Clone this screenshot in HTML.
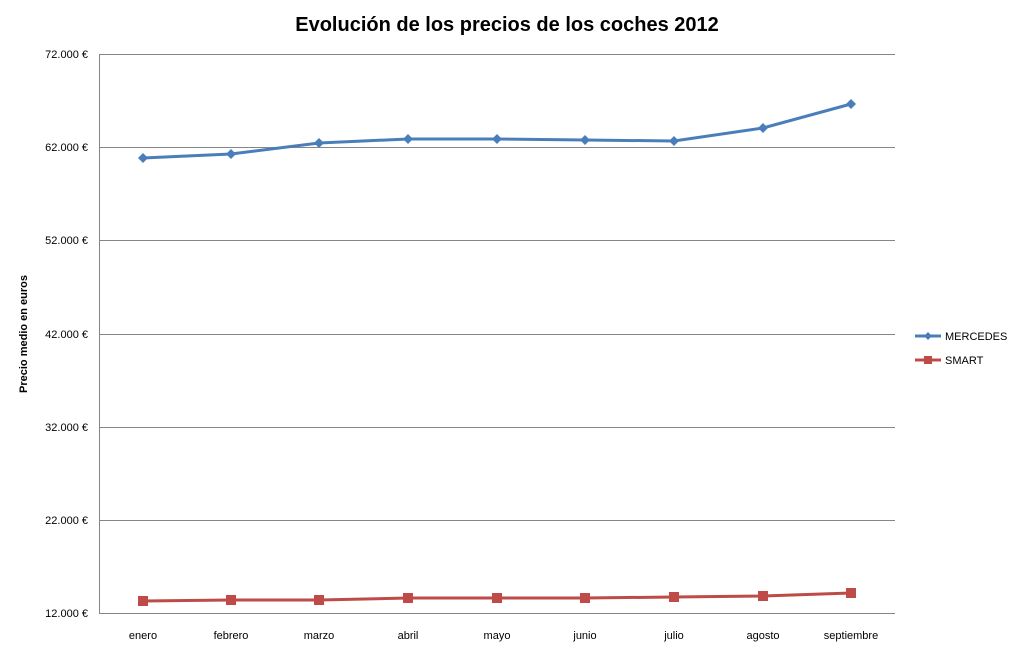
<!DOCTYPE html>
<html><head><meta charset="utf-8"><style>
html,body{margin:0;padding:0;background:#fff;}
svg{display:block;font-family:"Liberation Sans",sans-serif;}
</style></head><body>
<svg width="1017" height="656" viewBox="0 0 1017 656" xmlns="http://www.w3.org/2000/svg">
<rect width="1017" height="656" fill="#fff"/>
<text x="507" y="31" text-anchor="middle" font-size="20" font-weight="bold" fill="#000">Evolución de los precios de los coches 2012</text>
<g stroke="#868686" stroke-width="1">
<line x1="99" y1="54.5" x2="895" y2="54.5"/>
<line x1="99" y1="147.5" x2="895" y2="147.5"/>
<line x1="99" y1="240.5" x2="895" y2="240.5"/>
<line x1="99" y1="334.5" x2="895" y2="334.5"/>
<line x1="99" y1="427.5" x2="895" y2="427.5"/>
<line x1="99" y1="520.5" x2="895" y2="520.5"/>
<line x1="99" y1="613.5" x2="895" y2="613.5"/>
<line x1="99.5" y1="54" x2="99.5" y2="614"/>
</g>
<g font-size="11" fill="#000" text-anchor="end">
<text x="88" y="58">72.000 €</text>
<text x="88" y="151">62.000 €</text>
<text x="88" y="244">52.000 €</text>
<text x="88" y="338">42.000 €</text>
<text x="88" y="431">32.000 €</text>
<text x="88" y="524">22.000 €</text>
<text x="88" y="617">12.000 €</text>
</g>
<text transform="translate(27,334) rotate(-90)" text-anchor="middle" font-size="11" font-weight="bold">Precio medio en euros</text>
<g font-size="11" fill="#000" text-anchor="middle">
<text x="143" y="639">enero</text>
<text x="231" y="639">febrero</text>
<text x="319" y="639">marzo</text>
<text x="408" y="639">abril</text>
<text x="497" y="639">mayo</text>
<text x="585" y="639">junio</text>
<text x="674" y="639">julio</text>
<text x="763" y="639">agosto</text>
<text x="851" y="639">septiembre</text>
</g>
<polyline fill="none" stroke="#4a7ebb" stroke-width="3" points="143,158 231,154 319,143 408,139 497,139 585,140 674,141 763,128 851,104"/>
<g fill="#4a7ebb">
<path d="M143,153l5,5l-5,5l-5,-5z"/><path d="M231,149l5,5l-5,5l-5,-5z"/><path d="M319,138l5,5l-5,5l-5,-5z"/>
<path d="M408,134l5,5l-5,5l-5,-5z"/><path d="M497,134l5,5l-5,5l-5,-5z"/><path d="M585,135l5,5l-5,5l-5,-5z"/>
<path d="M674,136l5,5l-5,5l-5,-5z"/><path d="M763,123l5,5l-5,5l-5,-5z"/><path d="M851,99l5,5l-5,5l-5,-5z"/>
</g>
<polyline fill="none" stroke="#be4b48" stroke-width="3" points="143,601 231,600 319,600 408,598 497,598 585,598 674,597 763,596 851,593"/>
<g fill="#be4b48">
<rect x="138" y="596" width="10" height="10"/><rect x="226" y="595" width="10" height="10"/><rect x="314" y="595" width="10" height="10"/>
<rect x="403" y="593" width="10" height="10"/><rect x="492" y="593" width="10" height="10"/><rect x="580" y="593" width="10" height="10"/>
<rect x="669" y="592" width="10" height="10"/><rect x="758" y="591" width="10" height="10"/><rect x="846" y="588" width="10" height="10"/>
</g>
<line x1="915" y1="336" x2="941" y2="336" stroke="#4a7ebb" stroke-width="3"/>
<path d="M928,332l4,4l-4,4l-4,-4z" fill="#4a7ebb"/>
<text x="945" y="340" font-size="11">MERCEDES</text>
<line x1="915" y1="360" x2="941" y2="360" stroke="#be4b48" stroke-width="3"/>
<rect x="924" y="356" width="8" height="8" fill="#be4b48"/>
<text x="945" y="364" font-size="11">SMART</text>
</svg>
</body></html>
